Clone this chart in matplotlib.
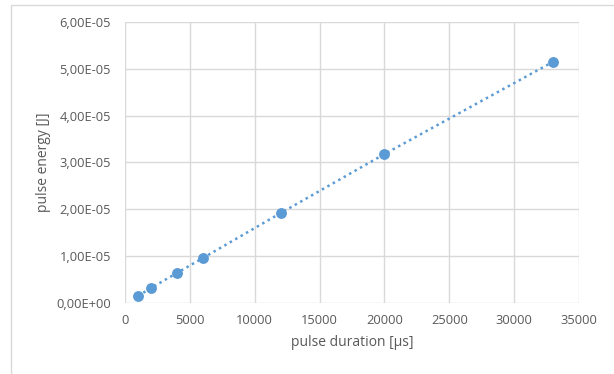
import matplotlib
matplotlib.use("Agg")
import matplotlib.pyplot as plt
from matplotlib.patches import Rectangle
from matplotlib.ticker import FuncFormatter

# data
duration_us = [1000, 2000, 4000, 6000, 12000, 20000, 33000]
energy_j = [1.5e-6, 3.2e-6, 6.4e-6, 9.6e-6, 1.92e-5, 3.18e-5, 5.15e-5]
x_ticks = [0, 5000, 10000, 15000, 20000, 25000, 30000, 35000]
y_ticks = [0, 1e-5, 2e-5, 3e-5, 4e-5, 5e-5, 6e-5]

BLUE = "#5B9BD5"
GRID = "#D9D9D9"
TXT = "#595959"

plt.rcParams["font.family"] = ["Open Sans", "DejaVu Sans"]

fig = plt.figure(figsize=(6.14, 3.74), dpi=100)
W, H = 614, 374
ax = fig.add_axes([125 / W, 1 - 303 / H, (579 - 125) / W, (303 - 22) / H])

# chart area border (Excel style)
fig.patches.append(Rectangle((11 / W, -0.05), 1.1, 1 - 5 / H + 0.05,
                             transform=fig.transFigure, fill=False,
                             edgecolor="#D9D9D9", linewidth=1.0))

ax.plot(duration_us, energy_j, linestyle=(0, (1, 1.5)), color=BLUE,
        linewidth=1.8, marker="o", markersize=6.8, markerfacecolor=BLUE,
        markeredgecolor=BLUE, zorder=3)

ax.set_xlim(0, 35000)
ax.set_ylim(0, 6e-5)
ax.set_xticks(x_ticks)
ax.set_yticks(y_ticks)


def sci_comma(v, pos):
    s = f"{v:.2E}"
    return s.replace(".", ",")


ax.yaxis.set_major_formatter(FuncFormatter(sci_comma))
ax.xaxis.set_major_formatter(FuncFormatter(lambda v, p: f"{int(v)}"))

ax.grid(True, color=GRID, linewidth=1.0)
ax.set_axisbelow(True)
for s in ax.spines.values():
    s.set_visible(False)
ax.tick_params(length=0, labelsize=9.3, labelcolor=TXT, pad=8)
ax.tick_params(axis="y", pad=10)

ax.set_xlabel("pulse duration [µs]", fontsize=10, color=TXT, labelpad=6)
ax.set_ylabel("pulse energy [J]", fontsize=10, color=TXT, labelpad=4)

fig.savefig("out.png", dpi=100)
